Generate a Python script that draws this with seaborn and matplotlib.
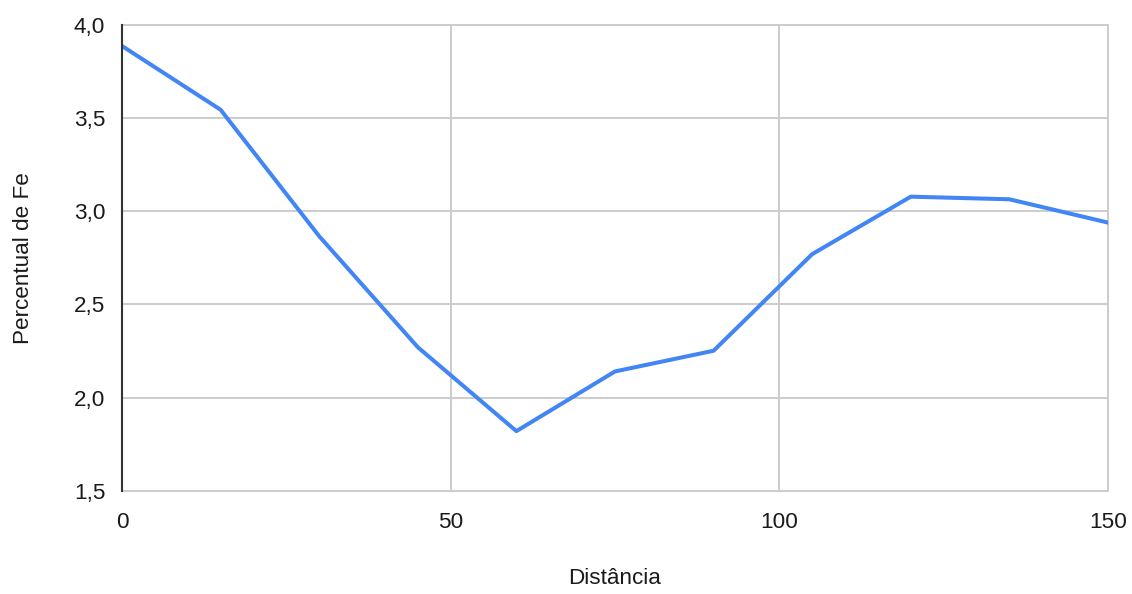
import matplotlib
matplotlib.use("Agg")
import matplotlib.pyplot as plt
import seaborn as sns
import pandas as pd
from matplotlib.ticker import FuncFormatter, FixedLocator

# Iron content measured along the section
distancia = [0, 15, 30, 45, 60, 75, 90, 105, 120, 135, 150]
percentual_fe = [3.886, 3.544, 2.866, 2.271, 1.821, 2.141, 2.252, 2.770, 3.078, 3.064, 2.939]

x_ticks = [0, 50, 100, 150]
y_ticks = [1.5, 2.0, 2.5, 3.0, 3.5, 4.0]

df = pd.DataFrame({"Distância": distancia, "Percentual de Fe": percentual_fe})

sns.set_style("white")
plt.rcParams["font.family"] = ["Liberation Sans", "DejaVu Sans"]

fig = plt.figure(figsize=(11.32, 5.94), dpi=100)
ax = fig.add_axes([122 / 1132, 1 - 491 / 594, 986 / 1132, 466.3 / 594])

sns.lineplot(data=df, x="Distância", y="Percentual de Fe", ax=ax,
             color="#4285F4", linewidth=2.9, zorder=3)

ax.set_xlim(0, 150)
ax.set_ylim(1.5, 4.0)
ax.xaxis.set_major_locator(FixedLocator(x_ticks))
ax.yaxis.set_major_locator(FixedLocator(y_ticks))
ax.yaxis.set_major_formatter(FuncFormatter(lambda v, _: f"{v:.1f}".replace(".", ",")))
ax.xaxis.set_major_formatter(FuncFormatter(lambda v, _: f"{int(v)}"))

ax.grid(True, color="#cccccc", linewidth=1.4, zorder=0)
for gl in ax.get_xgridlines() + ax.get_ygridlines():
    gl.set_clip_on(False)
ax.set_axisbelow(True)
for side in ("top", "right", "bottom"):
    ax.spines[side].set_visible(False)
ax.spines["left"].set_color("#333333")
ax.spines["left"].set_linewidth(1.5)
ax.spines["left"].set_zorder(4)

ax.tick_params(axis="both", length=0, labelsize=16.2, colors="#1a1a1a")
ax.tick_params(axis="y", pad=12)
ax.tick_params(axis="x", pad=15)

ax.set_xlabel("Distância", fontsize=16.2, color="#1a1a1a", va="center")
ax.set_ylabel("Percentual de Fe", fontsize=16.2, color="#1a1a1a", va="center")
ax.xaxis.set_label_coords(0.5, -(578 - 491) / 466.3)
ax.yaxis.set_label_coords(-(122 - 24) / 986, 0.5)

fig.savefig("out.png", dpi=100, facecolor="white")
